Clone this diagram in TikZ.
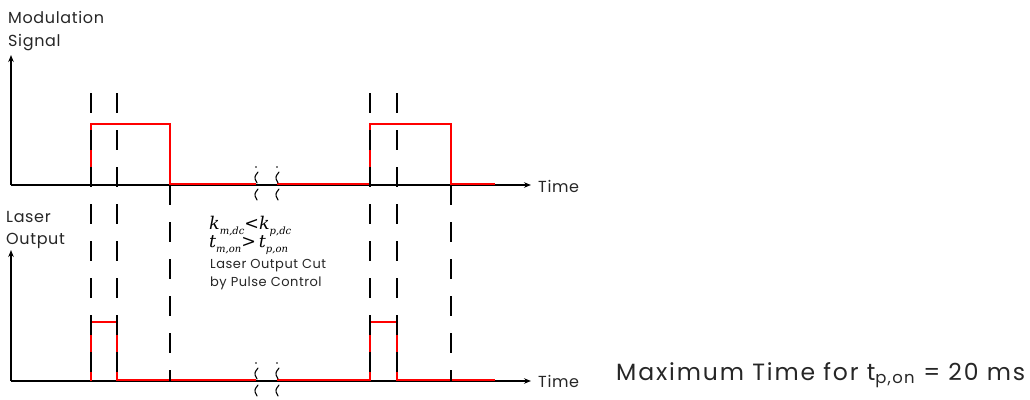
\documentclass[tikz,border=0pt]{standalone}
\usepackage{fontspec}
\setmainfont{Poppins}[LetterSpace=4]
\newfontfamily\symfont{DejaVu Serif}
\usetikzlibrary{arrows.meta}
% italic symbol with a lowered, small subscript
\newcommand\symsub[2]{{\symfont\itshape #1\raisebox{-5pt}{\fontsize{10}{10}\selectfont #2}}}
\newcommand\rel[1]{{\symfont #1}}
\begin{document}
\begin{tikzpicture}[x=1pt,y={(0pt,-1pt)},
  axisline/.style={line width=1.8pt,-{Stealth[length=7pt,width=5.5pt]}},
  sig/.style={red,line width=1.8pt},
  guide/.style={line width=1.7pt,dash pattern=on 20pt off 17pt},
  squig/.style={line width=1.1pt,line cap=round},
  lbl/.style={font=\fontsize{16}{20}\selectfont,anchor=base west,inner sep=0pt,text=black!85},
  note/.style={font=\fontsize{13}{17}\selectfont,anchor=base west,inner sep=0pt,text=black!85},
  mathlbl/.style={font=\fontsize{17.5}{20}\selectfont,anchor=base west,inner sep=0pt}]
\useasboundingbox (0,0) rectangle (1030,399);

% axis end points
\coordinate (o1) at (11,185);
\coordinate (y1) at (11,55);
\coordinate (x1) at (531,185);
\coordinate (o2) at (11,381);
\coordinate (y2) at (11,250);
\coordinate (x2) at (531,381);

% axes
\draw[axisline] (o1) -- (y1);
\draw[axisline] (o1) -- (x1);
\draw[axisline] (o2) -- (y2);
\draw[axisline] (o2) -- (x2);

% modulation signal
\coordinate (m0) at (91,185);
\coordinate (m1) at (256,184);
\coordinate (m2) at (277,184);
\coordinate (m3) at (495,184);
\draw[sig] (m0) -- (91,124) -- (170,124) -- (170,184) -- (m1);
\draw[sig] (m2) -- (370,184) -- (370,124) -- (451,124) -- (451,184) -- (m3);

% laser output
\coordinate (l0) at (91,381);
\coordinate (l1) at (256,380);
\coordinate (l2) at (277,380);
\coordinate (l3) at (495,380);
\draw[sig] (l0) -- (91,322) -- (117,322) -- (117,380) -- (l1);
\draw[sig] (l2) -- (370,380) -- (370,322) -- (397,322) -- (397,380) -- (l3);

% time markers
\coordinate (g1a) at (91,93);  \coordinate (g1b) at (91,381);
\coordinate (g2a) at (117,93); \coordinate (g2b) at (117,381);
\coordinate (g3a) at (170,185); \coordinate (g3b) at (170,381);
\coordinate (g4a) at (370,93); \coordinate (g4b) at (370,381);
\coordinate (g5a) at (397,93); \coordinate (g5b) at (397,381);
\coordinate (g6a) at (451,185); \coordinate (g6b) at (451,381);
\foreach \g in {1,...,6} \draw[guide] (g\g a) -- (g\g b);

% axis breaks
\foreach \bx in {256,277} {
  \foreach \by in {185,381} {
    \fill (\bx,\by-18) circle (0.9pt);
    \draw[squig] (\bx+2,\by-13) -- (\bx-0.5,\by-9.5) .. controls (\bx-1.5,\by-8) and (\bx-1,\by-4) .. (\bx+1,\by-2);
    \draw[squig] (\bx+2,\by+4) -- (\bx-0.5,\by+7.5) .. controls (\bx-1.5,\by+9) and (\bx-1,\by+13) .. (\bx+1,\by+15);
  }
}

% labels
\node[lbl] (modlbl) at (8,23) {Modulation};
\node[lbl] (siglbl) at (8,46) {Signal};
\node[lbl] (laslbl) at (6,222) {Laser};
\node[lbl] (outlbl) at (6,244) {Output};
\node[lbl] (time1) at (538,192) {Time};
\node[lbl] (time2) at (538,387) {Time};

\node[mathlbl] (kcmp) at (209,229) {\symsub{k}{m,dc}\rel{<}\symsub{k}{p,dc}};
\node[mathlbl] (tcmp) at (209,247) {\symsub{t}{m,on}\rel{>}\,\symsub{t}{p,on}};
\node[note] (cut1) at (210,268) {Laser Output Cut};
\node[note] (cut2) at (210,286) {by Pulse Control};

\node[anchor=base west,inner sep=0pt,font=\fontsize{23.5}{27}\selectfont\addfontfeatures{LetterSpace=8},text=black!85] (maxt) at (616,380)
  {Maximum Time for t\textsubscript{p,on} = 20 ms};
\end{tikzpicture}
\end{document}
